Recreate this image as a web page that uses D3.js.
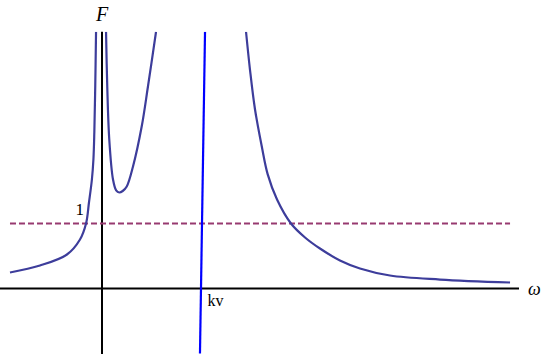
<!DOCTYPE html>
<html>
<head>
<meta charset="utf-8">
<script src="https://cdn.jsdelivr.net/npm/d3@7"></script>
<style>
body { margin:0; background:#fff; }
text { font-family: "Liberation Serif", "DejaVu Serif", serif; }
</style>
</head>
<body>
<div id="chart"></div>
<script>
// F(omega), omega in units of kv
var branchLeft = [[-0.911,0.246],[-0.614,0.354],[-0.347,0.523],[-0.218,0.754],[-0.158,1.0],
  [-0.129,1.323],[-0.100,1.677],[-0.085,1.985],[-0.076,2.4],[-0.067,3.1],[-0.059,3.95]]
var branchMid = [[0.040,3.95],[0.052,3.108],[0.072,2.292],[0.109,1.677],[0.140,1.51],[0.171,1.477],
  [0.205,1.50],[0.245,1.569],[0.307,1.877],[0.393,2.492],[0.455,3.108],[0.535,3.95]]
var branchRight = [[1.426,3.95],[1.465,3.369],[1.515,2.754],[1.584,2.169],[1.640,1.760],[1.733,1.369],
  [1.871,1.0],[2.01,0.785],[2.158,0.615],[2.356,0.431],[2.554,0.308],[2.851,0.2],[3.347,0.138],[4.04,0.092]]
var blueLine = [[1.020,3.95],[0.970,-1.0]]
var levelOne = 1
var levelRange = [-0.911,4.04]
var kv = 0.985
var yTickLabel = "1"
var xTickLabel = "kv"

var w = 545, h = 354

var x = d3.scaleLinear().domain([0,1]).range([102,203])
var y = d3.scaleLinear().domain([0,1]).range([288.5,223.5])

var svg = d3.select('#chart').append('svg')
  .attr('width',w)
  .attr('height',h)

svg.append('clipPath').attr('id','clip')
  .append('rect')
  .attr('x',0).attr('y',y(3.95)).attr('width',w).attr('height',h-y(3.95))

var line = d3.line()
  .x(function(d){ return x(d[0]) })
  .y(function(d){ return y(d[1]) })
  .curve(d3.curveCatmullRom.alpha(0.5))

//assi
svg.append('line')
  .attr('x1',0).attr('y1',y(0)).attr('x2',519).attr('y2',y(0))
  .attr('stroke','black').attr('stroke-width',2)
svg.append('line')
  .attr('x1',x(0)).attr('y1',y(3.95)).attr('x2',x(0)).attr('y2',h)
  .attr('stroke','black').attr('stroke-width',2)

//linea tratteggiata F=1
svg.append('line')
  .attr('x1',x(levelRange[0])).attr('y1',y(levelOne))
  .attr('x2',x(levelRange[1])).attr('y2',y(levelOne))
  .attr('stroke','#973a70').attr('stroke-width',2)
  .attr('stroke-dasharray','6,3')

var g = svg.append('g').attr('clip-path','url(#clip)')

;[branchLeft,branchMid,branchRight].forEach(function(b){
  g.append('path')
    .attr('d',line(b))
    .attr('fill','none')
    .attr('stroke','#3d3d9b')
    .attr('stroke-width',2.2)
})

g.append('path')
  .attr('d',d3.line().x(function(d){return x(d[0])}).y(function(d){return y(d[1])})(blueLine))
  .attr('fill','none')
  .attr('stroke','#0000ff')
  .attr('stroke-width',2.2)

//etichette
svg.append('text')
  .attr('x',x(0)).attr('y',21)
  .attr('text-anchor','middle')
  .attr('font-style','italic')
  .attr('font-size',20)
  .text('F')

svg.append('text')
  .attr('x',528).attr('y',295)
  .attr('font-style','italic')
  .attr('font-size',18)
  .text('ω')

svg.append('text')
  .attr('x',84).attr('y',215)
  .attr('text-anchor','end')
  .attr('font-size',17)
  .text(yTickLabel)

svg.append('text')
  .attr('x',x(kv)+6).attr('y',306)
  .attr('font-size',16)
  .text(xTickLabel)
</script>
</body>
</html>
